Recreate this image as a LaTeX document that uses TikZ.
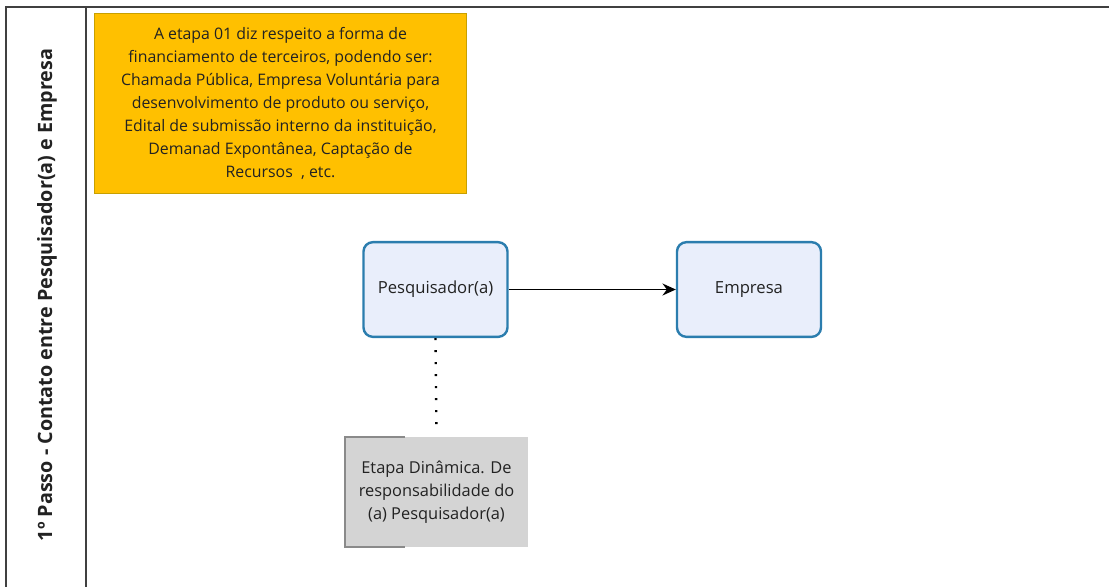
\documentclass[tikz,border=0pt]{standalone}
\usepackage{fontspec}
\setmainfont{Open Sans}
\usetikzlibrary{arrows.meta}
\definecolor{laranja}{HTML}{FFC000}
\definecolor{laranjaBorda}{HTML}{C8A000}
\definecolor{azulFundo}{HTML}{E9EEFB}
\definecolor{azulBorda}{HTML}{2B7DAE}
\definecolor{cinzaFundo}{HTML}{D4D4D4}
\definecolor{cinzaBorda}{HTML}{8A8A8A}
\definecolor{texto}{HTML}{222222}
\tikzstyle{etapa}=[draw=azulBorda, fill=azulFundo, line width=1.8pt, rounded corners=7pt, minimum width=108pt, minimum height=71pt, inner sep=0pt, text=texto, font=\fontsize{12.5}{15}\selectfont]
\tikzstyle{nota}=[fill=laranja, draw=laranjaBorda, line width=0.6pt, minimum width=279pt, minimum height=135pt, inner sep=0pt, align=center, text=texto, font=\fontsize{11.9}{17.2}\selectfont]
\tikzstyle{anotacao}=[fill=cinzaFundo, minimum width=137pt, minimum height=82pt, inner sep=0pt, align=center, text=texto, font=\fontsize{12.3}{17.2}\selectfont]
\tikzstyle{raia}=[draw=black!75, line width=1.4pt]

\begin{document}
\begin{tikzpicture}[x=0.75pt, y=-0.75pt]
    \useasboundingbox (0, 0) rectangle (1109, 587);
    % raia
    \draw[raia] (1109, 7) -- (6, 7) -- (6, 587);
    \draw[raia] (86, 7) -- (86, 587);
    \node[rotate=90, text=texto, font=\fontsize{14.8}{17}\selectfont\bfseries] (titulo) at (47, 295) {1º Passo - Contato entre Pesquisador(a) e Empresa};
    % nota da etapa 01
    \node[nota] (info) at (280.5, 103.5) {A etapa 01 diz respeito a forma de\\financiamento de terceiros, podendo ser:\\Chamada Pública, Empresa Voluntária para\\desenvolvimento de produto ou serviço,\\Edital de submissão interno da instituição,\\Demanad Expontânea, Captação de\\Recursos\ \ , etc.};
    % etapas
    \node[etapa] (pesq) at (435.5, 289.5) {Pesquisador(a)};
    \node[etapa] (emp) at (749, 289.5) {Empresa};
    \draw[line width=1pt, -{Stealth[length=10pt, width=9pt]}] (pesq.east) -- (emp.west);
    % anotacao
    \node[anotacao] (obs) at (436.5, 492) {Etapa Dinâmica. De\\responsabilidade do\\(a) Pesquisador(a)};
    \draw[cinzaBorda, line width=0.9pt] ([xshift=45pt]obs.north west) -- (obs.north west) -- (obs.south west) -- ([xshift=45pt]obs.south west);
    \draw[line width=1.8pt, dash pattern=on 1.5pt off 7.5pt, shorten >=5pt] (pesq.south) -- (obs.north);
\end{tikzpicture}
\end{document}
